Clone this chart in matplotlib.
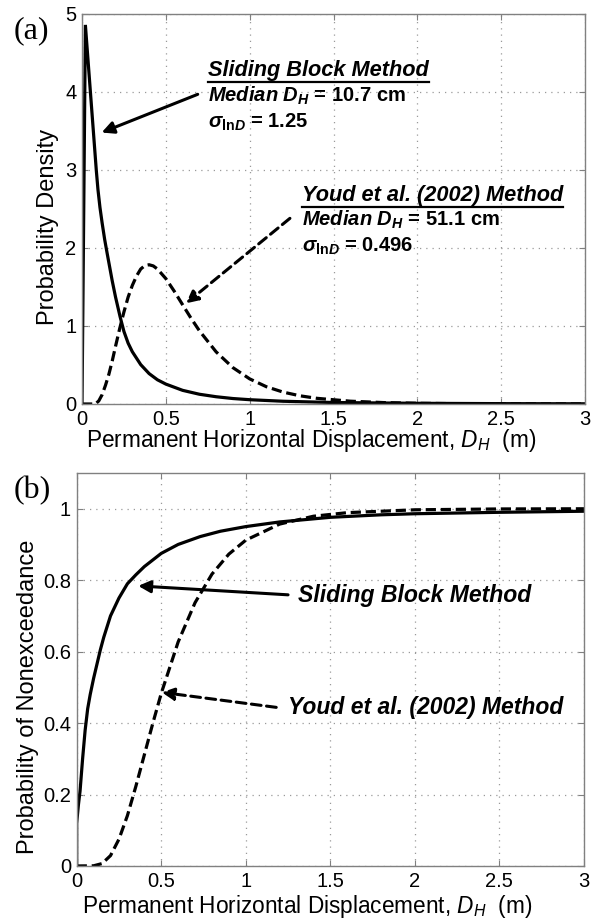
import numpy as np
import matplotlib
matplotlib.use('Agg')
import matplotlib.pyplot as plt
from matplotlib.lines import Line2D

plt.rcParams['font.family'] = ['Liberation Sans', 'DejaVu Sans']
plt.rcParams['mathtext.fontset'] = 'custom'
plt.rcParams['mathtext.rm'] = 'Liberation Sans'
plt.rcParams['mathtext.it'] = 'Liberation Sans:italic'
plt.rcParams['mathtext.bf'] = 'Liberation Sans:bold'
plt.rcParams['mathtext.bfit'] = 'Liberation Sans:bold:italic'

# probability density, sliding block method (m, 1/m)
sb_pdf_x = [0, 0.02, 0.05, 0.085, 0.095, 0.107, 0.12, 0.135, 0.15, 0.18, 0.2, 0.227, 0.25,
            0.275, 0.3, 0.35, 0.4, 0.45, 0.5, 0.6, 0.7, 0.8, 0.9, 1.0, 1.2, 1.5, 2.0, 2.5, 3.0]
sb_pdf_y = [0, 4.86, 4.0, 3.0, 2.75, 2.52, 2.32, 2.11, 1.93, 1.58, 1.37, 1.12, 0.93,
            0.78, 0.67, 0.505, 0.39, 0.31, 0.255, 0.175, 0.125, 0.093, 0.07, 0.055, 0.035,
            0.019, 0.0087, 0.0045, 0.0026]

# probability density, Youd et al. (2002)
yd_pdf_x = [0, 0.08, 0.10, 0.12, 0.14, 0.16, 0.18, 0.20, 0.225, 0.25, 0.275, 0.30, 0.325,
            0.35, 0.375, 0.40, 0.425, 0.45, 0.5, 0.55, 0.6, 0.65, 0.7, 0.8, 0.9, 1.0,
            1.1, 1.2, 1.3, 1.4, 1.6, 1.8, 2.0, 2.25, 2.5, 3.0]
yd_pdf_y = [0, 0.0, 0.04, 0.12, 0.24, 0.38, 0.55, 0.74, 0.97, 1.18, 1.37, 1.52, 1.64,
            1.73, 1.775, 1.785, 1.77, 1.73, 1.607, 1.446, 1.272, 1.10, 0.939, 0.668, 0.466, 0.322,
            0.221, 0.152, 0.105, 0.073, 0.036, 0.018, 0.009, 0.004, 0.0015, 0.0003]

# probability of nonexceedance, sliding block method
sb_cdf_x = [0, 0, 0.01, 0.02, 0.035, 0.05, 0.065, 0.08, 0.1, 0.12, 0.14, 0.16, 0.18, 0.2,
            0.25, 0.3, 0.35, 0.4, 0.5, 0.6, 0.73, 0.85, 1.0, 1.2, 1.5, 1.8, 2.0, 2.5, 3.0]
sb_cdf_y = [0, 0.12, 0.17, 0.21, 0.30, 0.38, 0.44, 0.48, 0.525, 0.565, 0.605, 0.64, 0.67, 0.70,
            0.75, 0.79, 0.815, 0.838, 0.875, 0.90, 0.922, 0.937, 0.95, 0.963, 0.976, 0.983,
            0.986, 0.99, 0.993]

# probability of nonexceedance, Youd et al. (2002)
yd_cdf_x = [0, 0.1, 0.15, 0.2, 0.25, 0.3, 0.35, 0.4, 0.45, 0.5, 0.6, 0.7, 0.8, 0.9,
            1.0, 1.2, 1.4, 1.6, 2.0, 2.5, 3.0]
yd_cdf_y = [0, 0.0005, 0.0067, 0.029, 0.075, 0.141, 0.223, 0.311, 0.399, 0.483, 0.627, 0.737,
            0.817, 0.873, 0.912, 0.957, 0.979, 0.989, 0.997, 0.9994, 0.9999]

x_ticks = [0, 0.5, 1, 1.5, 2, 2.5, 3]
x_tick_labels = ['0', '0.5', '1', '1.5', '2', '2.5', '3']
pdf_ticks = [0, 1, 2, 3, 4, 5]
cdf_ticks = [0, 0.2, 0.4, 0.6, 0.8, 1]
cdf_tick_labels = ['0', '0.2', '0.4', '0.6', '0.8', '1']

xlabel = r'Permanent Horizontal Displacement, $D_H$  (m)'
dash = (0, (3.2, 1.5))

fig = plt.figure(figsize=(6, 9.19), dpi=100)
ax1 = fig.add_axes([0.1367, 0.5604, 0.8383, 0.4244])
ax2 = fig.add_axes([0.1278, 0.0577, 0.8455, 0.4276])


def style(ax):
    ax.set_xlim(0, 3)
    ax.set_xticks(x_ticks)
    ax.set_xticklabels(x_tick_labels)
    ax.grid(True, color='#9a9a9a', linestyle=(0, (1, 4)), linewidth=0.9)
    ax.tick_params(direction='in', top=True, right=True, length=4, color='#808080',
                   labelsize=14.5, pad=4)
    for s in ax.spines.values():
        s.set_color('#808080')
        s.set_linewidth(1.0)
    ax.set_axisbelow(True)


style(ax1)
ax1.plot(yd_pdf_x, yd_pdf_y, color='k', lw=2.3, linestyle=dash)
ax1.plot(sb_pdf_x, sb_pdf_y, color='k', lw=2.3, solid_joinstyle='miter')
ax1.set_ylim(0, 5)
ax1.set_yticks(pdf_ticks)
ax1.set_ylabel('Probability Density', fontsize=17)
ax1.yaxis.set_label_coords(-0.045, 0.455)
ax1.set_xlabel(xlabel, fontsize=16.3)
ax1.xaxis.set_label_coords(0.455, -0.06)

style(ax2)
ax2.plot(yd_cdf_x, yd_cdf_y, color='k', lw=2.3, linestyle=dash)
ax2.plot(sb_cdf_x, sb_cdf_y, color='k', lw=2.3)
ax2.set_ylim(0, 1.1)
ax2.set_yticks(cdf_ticks)
ax2.set_yticklabels(cdf_tick_labels)
ax2.set_ylabel('Probability of Nonexceedance', fontsize=17)
ax2.yaxis.set_label_coords(-0.075, 0.43)
ax2.set_xlabel(xlabel, fontsize=16.3)
ax2.xaxis.set_label_coords(0.455, -0.068)

# annotations, panel (a)
arrow_solid = dict(arrowstyle='-|>', color='k', lw=2.2, mutation_scale=18,
                   shrinkA=0, shrinkB=0)
arrow_dash = dict(arrowstyle='-|>', color='k', lw=2.2, mutation_scale=18,
                  shrinkA=0, shrinkB=0, linestyle=(0, (3.2, 1.8)))

ax1.annotate('', xy=(0.117, 3.48), xytext=(0.69, 3.97), arrowprops=arrow_solid)
ax1.annotate('', xy=(0.62, 1.29), xytext=(1.24, 2.38), arrowprops=arrow_dash)

h1 = ax1.text(0.75, 4.2, 'Sliding Block Method', fontsize=15.7, fontweight='bold',
              fontstyle='italic', va='baseline')
ax1.text(0.75, 3.88, r'$\mathbfit{Median\ D}_{\mathbfit{H}}$ = 10.7 cm',
         fontsize=14.5, fontweight='bold', va='baseline')
ax1.text(0.75, 3.54, r'$\mathbfit{\sigma}_{\mathbf{ln}\mathbfit{D}}$ = 1.25',
         fontsize=14.5, fontweight='bold', va='baseline')

h2 = ax1.text(1.31, 2.6, 'Youd et al. (2002) Method', fontsize=15.7, fontweight='bold',
              fontstyle='italic', va='baseline')
ax1.text(1.31, 2.29, r'$\mathbfit{Median\ D}_{\mathbfit{H}}$ = 51.1 cm',
         fontsize=14.5, fontweight='bold', va='baseline')
ax1.text(1.31, 1.95, r'$\mathbfit{\sigma}_{\mathbf{ln}\mathbfit{D}}$ = 0.496',
         fontsize=14.5, fontweight='bold', va='baseline')

# annotations, panel (b)
ax2.annotate('', xy=(0.364, 0.784), xytext=(1.25, 0.759), arrowprops=arrow_solid)
ax2.annotate('', xy=(0.503, 0.486), xytext=(1.18, 0.444), arrowprops=arrow_dash)
ax2.text(1.31, 0.756, 'Sliding Block Method', fontsize=16.6, fontweight='bold',
         fontstyle='italic', va='center')
ax2.text(1.25, 0.444, 'Youd et al. (2002) Method', fontsize=16.5, fontweight='bold',
         fontstyle='italic', va='center')

fig.text(0.022, 0.967, '(a)', family='Liberation Serif', fontsize=23, va='center')
fig.text(0.022, 0.4657, '(b)', family='Liberation Serif', fontsize=23, va='center')

# underline the method headings
fig.canvas.draw()
inv = fig.transFigure.inverted()
for h in (h1, h2):
    bb = h.get_window_extent()
    (x0, y0), (x1, _) = inv.transform([(bb.x0, bb.y0 - 1), (bb.x1, bb.y0)])
    fig.add_artist(Line2D([x0, x1], [y0, y0], transform=fig.transFigure,
                          color='k', lw=1.6))

fig.savefig('out.png', dpi=100)
